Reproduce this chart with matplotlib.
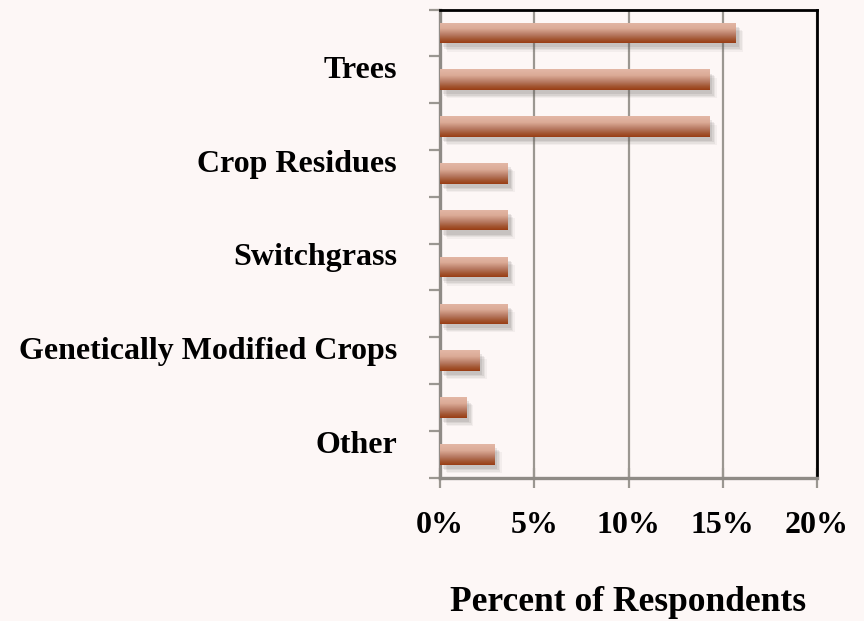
import matplotlib
matplotlib.use('Agg')
import matplotlib.pyplot as plt
import numpy as np
from matplotlib import patheffects as pe
from matplotlib import transforms
from matplotlib.colors import LinearSegmentedColormap

# ---- data (bottom to top, as drawn) ----
categories = ['Other', '', 'Genetically Modified Crops', '', 'Switchgrass', '',
              'Crop Residues', '', 'Trees', '']
values = [2.9, 1.4, 2.1, 3.6, 3.6, 3.6, 3.6, 14.3, 14.3, 15.7]
xticks = [0, 5, 10, 15, 20]
xtick_labels = ['0%', '5%', '10%', '15%', '20%']
xlabel = 'Percent of Respondents'

plt.rcParams['font.family'] = ['Liberation Serif', 'DejaVu Serif']
bg = '#fdf7f6'
grid_c = '#9b9791'

fig = plt.figure(figsize=(8.64, 6.21), dpi=100, facecolor=bg)
ax = fig.add_axes([0.5093, 0.2308, 0.9456 - 0.5093, 0.9847 - 0.2308])
ax.set_facecolor(bg)

y = np.arange(len(values))
bar_h = 0.44
shadow = [pe.SimplePatchShadow(offset=(o, -o - 1), shadow_rgbFace=(0.35, 0.33, 0.32), alpha=a)
          for o, a in [(5, 0.06), (4, 0.08), (3, 0.10), (2, 0.12)]]
bars = ax.barh(y, values, height=bar_h, color='none', edgecolor='none', zorder=3,
               path_effects=shadow + [pe.Normal()])

cmap = LinearSegmentedColormap.from_list('bar', [
    (0.0, (0.89, 0.72, 0.65)),
    (0.30, (0.86, 0.67, 0.59)),
    (0.60, (0.72, 0.48, 0.39)),
    (0.82, (0.64, 0.34, 0.20)),
    (1.0, (0.60, 0.24, 0.08)),
])
grad = np.linspace(0, 1, 64).reshape(-1, 1)
for rect in bars:
    x0 = rect.get_x(); w = rect.get_width()
    y0 = rect.get_y(); h = rect.get_height()
    im = ax.imshow(grad, extent=[x0, x0 + w, y0, y0 + h], origin='upper',
                   aspect='auto', cmap=cmap, zorder=4, interpolation='bilinear')
    im.set_clip_path(rect)

ax.set_xlim(0, 20)
ax.set_ylim(-0.5, len(values) - 0.5)

# grid
ax.set_xticks(xticks)
ax.set_xticklabels(xtick_labels, fontsize=23, fontweight='bold')
ax.xaxis.grid(True, color=grid_c, linewidth=1.6, zorder=1)
ax.set_axisbelow(True)
ax.tick_params(axis='x', direction='inout', length=14, width=1.6, color=grid_c, pad=17)

# y ticks at boundaries
ax.set_yticks(np.arange(-0.5, len(values), 1.0))
ax.set_yticklabels([])
ax.tick_params(axis='y', direction='out', length=8, width=1.6, color=grid_c)

tr = transforms.offset_copy(ax.get_yaxis_transform(), fig=fig, x=-43, y=9, units='dots')
for yi, lab in zip(y, categories):
    if lab:
        ax.text(0, yi, lab, transform=tr, ha='right', va='center',
                fontsize=23, fontweight='bold')

ax.set_xlabel(xlabel, fontsize=25.5, fontweight='bold', labelpad=33)

for s in ['top', 'right']:
    ax.spines[s].set_color('black')
    ax.spines[s].set_linewidth(2)
for s in ['left', 'bottom']:
    ax.spines[s].set_color('#8f8b86')
    ax.spines[s].set_linewidth(2.4)

fig.savefig('out.png', dpi=100, facecolor=bg)
